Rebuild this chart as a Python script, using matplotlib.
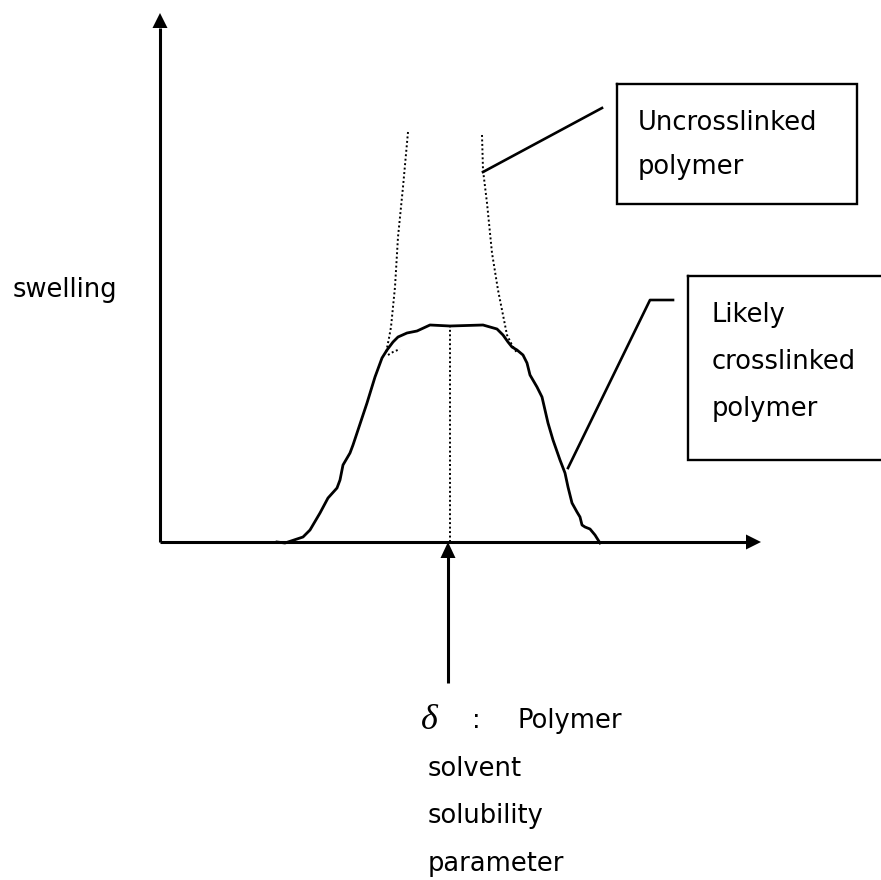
import matplotlib
matplotlib.use("Agg")
import matplotlib.pyplot as plt

# ---- data (chart units: x = solvent solubility parameter offset, y = swelling) ----
crosslinked_x = [117, 125, 143, 150, 160, 168, 177, 180, 183, 190, 193, 198, 207, 215,
                 222, 227, 233, 238, 247, 257, 270, 290, 323, 337, 343, 348, 352, 357,
                 363, 367, 370, 377, 382, 385, 388, 393, 400, 405, 408, 412, 417, 420,
                 422, 425, 430, 435, 440]
crosslinked_y = [0, -1, 5, 12, 29, 44, 54, 62, 77, 89, 97, 112, 139, 165,
                 184, 192, 200, 205, 209, 211, 217, 216, 217, 213, 207, 200, 195, 192,
                 187, 179, 167, 155, 145, 132, 119, 102, 82, 69, 55, 39, 30, 25,
                 17, 15, 13, 7, -1]

uncross_left_x = [248, 243, 238, 235, 231, 229, 226]
uncross_left_y = [410, 355, 305, 255, 215, 204, 189]
uncross_tail_x = [228, 233, 240]
uncross_tail_y = [187, 190, 193]
uncross_right_x = [322, 323, 327, 332, 338, 343, 347, 352, 357]
uncross_right_y = [407, 372, 339, 289, 252, 227, 207, 197, 189]

peak_x = 290
peak_y = 217

x_axis_end = 601
y_axis_end = 529

ORIGIN_PX = (160, 542)
W, H = 881, 880

fig = plt.figure(figsize=(8.81, 8.80), dpi=100)
ax = fig.add_axes([0, 0, 1, 1])
ax.set_xlim(-ORIGIN_PX[0], W - ORIGIN_PX[0])
ax.set_ylim(ORIGIN_PX[1] - H, ORIGIN_PX[1])
ax.axis("off")


def P(px, py):
    """pixel position -> chart coordinates (used only for annotations/decoration)."""
    return px - ORIGIN_PX[0], ORIGIN_PX[1] - py


def arrow_head(tip, direction, length=15, width=15):
    tx, ty = tip
    dx, dy = direction
    bx, by = tx - dx * length, ty - dy * length
    nx, ny = -dy, dx
    ax.fill([tx, bx + nx * width / 2, bx - nx * width / 2],
            [ty, by + ny * width / 2, by - ny * width / 2],
            color="black", lw=0, zorder=5)


# axes
ax.plot([0, x_axis_end - 15], [0, 0], color="black", lw=2.2, solid_capstyle="butt")
arrow_head((x_axis_end, 0), (1, 0))
ax.plot([0, 0], [0, y_axis_end - 15], color="black", lw=2.2, solid_capstyle="butt")
arrow_head((0, y_axis_end), (0, 1))

# curves
dot = (0, (1.0, 1.3))
ax.plot(uncross_left_x, uncross_left_y, color="black", lw=1.4, linestyle=dot)
ax.plot(uncross_tail_x, uncross_tail_y, color="black", lw=1.4, linestyle=dot)
ax.plot(uncross_right_x, uncross_right_y, color="black", lw=1.4, linestyle=dot)
ax.plot([peak_x, peak_x], [0, peak_y], color="black", lw=1.4, linestyle=dot)
ax.plot(crosslinked_x, crosslinked_y, color="black", lw=2.0, solid_joinstyle="round")

# bottom arrow pointing at peak position
bx0, by0 = P(448, 683)
ax.plot([peak_x - 2, peak_x - 2], [by0, -15], color="black", lw=2.2, solid_capstyle="butt")
arrow_head((peak_x - 2, 0), (0, 1), length=16, width=15)

# leader lines
x1, y1 = P(483, 172); x2, y2 = P(602, 108)
ax.plot([x1, x2], [y1, y2], color="black", lw=1.9)
xa, ya = P(568, 468); xb, yb = P(650, 300); xc, yc = P(673, 300)
ax.plot([xa, xb, xc], [ya, yb, yc], color="black", lw=1.9)

# boxes
def box(l, t, r, b):
    (x0, y0), (x1_, y1_) = P(l, t), P(r, b)
    ax.plot([x0, x1_, x1_, x0, x0], [y0, y0, y1_, y1_, y0], color="black", lw=1.7,
            solid_joinstyle="miter", clip_on=False)

box(617, 84, 857, 204)
box(688, 276, 905, 460)

FONT = "DejaVu Sans"
FS = 18.5


def txt(px, py, s, **kw):
    x, y = P(px, py)
    ax.text(x, y, s, ha="left", va="baseline", fontsize=kw.pop("fontsize", FS),
            family=kw.pop("family", FONT), color="black", **kw)


txt(13, 297, "swelling")
txt(638, 130, "Uncrosslinked")
txt(638, 174, "polymer")
txt(712, 322, "Likely")
txt(712, 369, "crosslinked")
txt(712, 416, "polymer")

txt(421, 729, "δ", family="Liberation Serif", style="italic", fontsize=26)
txt(472, 728, ":")
txt(517, 728, "Polymer")
txt(428, 776, "solvent")
txt(428, 823, "solubility")
txt(428, 871, "parameter")

fig.savefig("out.png", dpi=100)
